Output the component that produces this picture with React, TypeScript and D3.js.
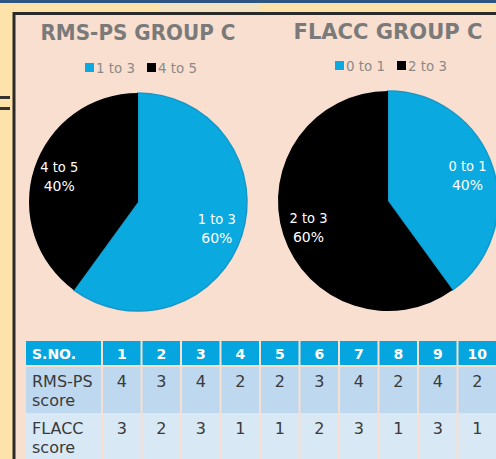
import React from "react";
import * as d3 from "d3";

// pie data
const rmsCategories = ["1 to 3", "4 to 5"];
const rmsShares = [60, 40];
const flaccCategories = ["0 to 1", "2 to 3"];
const flaccShares = [40, 60];

// table data
const serialNos = ["1", "2", "3", "4", "5", "6", "7", "8", "9", "10"];
const rmsScores = [4, 3, 4, 2, 2, 3, 4, 2, 4, 2];
const flaccScores = [3, 2, 3, 1, 1, 2, 3, 1, 3, 1];

const W = 496;
const H = 459;
const BLUE = "#0aa9df";
const FONT = "'DejaVu Sans', sans-serif";

type PieProps = {
  title: string;
  titleWidth: number;
  cats: string[];
  values: number[];
  cx: number;
  cy: number;
  r: number;
  legendX: number;
  legendY: number;
};

const Pie = ({ title, titleWidth, cats, values, cx, cy, r, legendX, legendY }: PieProps) => {
  const pie = d3.pie<number>().sort(null).value((d) => d);
  const arcs = pie(values);
  const arc = d3.arc<d3.PieArcDatum<number>>().innerRadius(0).outerRadius(r);
  const labelArc = d3
    .arc<d3.PieArcDatum<number>>()
    .innerRadius(r * 0.76)
    .outerRadius(r * 0.76);
  const color = d3.scaleOrdinal<string, string>().domain(cats).range([BLUE, "#000000"]);
  const total = d3.sum(values);

  return (
    <g>
      <text
        x={cx}
        y={cy - 162}
        textAnchor="middle"
        fontFamily={FONT}
        fontWeight="bold"
        fontSize={22}
        fill="#7a7a7a"
        textLength={titleWidth}
        lengthAdjust="spacingAndGlyphs"
      >
        {title}
      </text>
      {cats.map((c, i) => (
        <g key={c} transform={`translate(${legendX + i * 62},${legendY})`}>
          <rect x={0} y={-4} width={9} height={9} fill={color(c)} />
          <text x={11} y={5.5} fontFamily={FONT} fontSize={14} fill="#8a8a8a" textLength={39} lengthAdjust="spacingAndGlyphs">
            {c}
          </text>
        </g>
      ))}
      <g transform={`translate(${cx},${cy})`}>
        {arcs.map((a, i) => (
          <path
            key={i}
            d={arc(a) || ""}
            fill={color(cats[i])}
            stroke={i === 0 ? "#1597c9" : "none"}
            strokeWidth={1.5}
          />
        ))}
        {arcs.map((a, i) => {
          const [lx, ly] = labelArc.centroid(a);
          return (
            <text
              key={"l" + i}
              x={lx}
              y={ly}
              textAnchor="middle"
              fontFamily={FONT}
              fontSize={14}
              fill="#ffffff"
            >
              <tspan x={lx} dy={-4} textLength={38} lengthAdjust="spacingAndGlyphs">{cats[i]}</tspan>
              <tspan x={lx} dy={19}>{Math.round((values[i] / total) * 100) + "%"}</tspan>
            </text>
          );
        })}
      </g>
    </g>
  );
};

const App = () => {
  const x = d3.scaleBand<string>().domain(serialNos).range([102, 497]);
  const rowTop = [341, 367, 414];
  const rowH = [24, 46, 46];
  const rowFill = ["#05a6e0", "#bdd8ef", "#d8e8f5"];
  const rows = [
    { label: ["S.NO."], vals: serialNos },
    { label: ["RMS-PS", "score"], vals: rmsScores.map(String) },
    { label: ["FLACC", "score"], vals: flaccScores.map(String) },
  ];

  return (
    <svg
      width={W}
      height={H}
      style={{ position: "absolute", left: 0, top: 0 }}
      xmlns="http://www.w3.org/2000/svg"
    >
      {/* slide background */}
      <rect x={0} y={0} width={W} height={H} fill="#fde2aa" />
      <rect x={160} y={3} width={100} height={10} fill="#f1e2c4" />
      <rect x={0} y={0} width={W} height={3} fill="#2d5582" />
      <rect x={0} y={96} width={10} height={3} fill="#333" />
      <rect x={0} y={107} width={10} height={3} fill="#333" />
      <rect x={14} y={13.5} width={W} height={H} fill="#f9dfcf" stroke="#2a2a2a" strokeWidth={3} />

      <Pie
        title="RMS-PS GROUP C"
        titleWidth={195}
        cats={rmsCategories}
        values={rmsShares}
        cx={138}
        cy={202}
        r={109}
        legendX={85}
        legendY={67}
      />
      <Pie
        title="FLACC GROUP C"
        titleWidth={189}
        cats={flaccCategories}
        values={flaccShares}
        cx={388}
        cy={201}
        r={110}
        legendX={335}
        legendY={65}
      />

      {/* table */}
      {rows.map((row, ri) => (
        <g key={ri}>
          <rect x={26} y={rowTop[ri]} width={75} height={rowH[ri]} fill={rowFill[ri]} />
          {row.label.map((t, li) => (
            <text
              key={li}
              x={32}
              y={rowTop[ri] + (ri === 0 ? 18 : 20 + li * 19)}
              fontFamily={FONT}
              fontSize={ri === 0 ? 14 : 16}
              fontWeight={ri === 0 ? "bold" : "normal"}
              fill={ri === 0 ? "#ffffff" : "#3a3a3a"}
            >
              {t}
            </text>
          ))}
          {serialNos.map((s, ci) => (
            <g key={s}>
              <rect
                x={(x(s) || 0) + 1}
                y={rowTop[ri]}
                width={x.bandwidth() - 2}
                height={rowH[ri]}
                fill={rowFill[ri]}
              />
              <text
                x={(x(s) || 0) + x.bandwidth() / 2}
                y={rowTop[ri] + (ri === 0 ? 18 : 20)}
                textAnchor="middle"
                fontFamily={FONT}
                fontSize={ri === 0 ? 14 : 16}
                fontWeight={ri === 0 ? "bold" : "normal"}
                fill={ri === 0 ? "#ffffff" : "#3a3a3a"}
              >
                {row.vals[ci]}
              </text>
            </g>
          ))}
        </g>
      ))}
    </svg>
  );
};

export default App;
